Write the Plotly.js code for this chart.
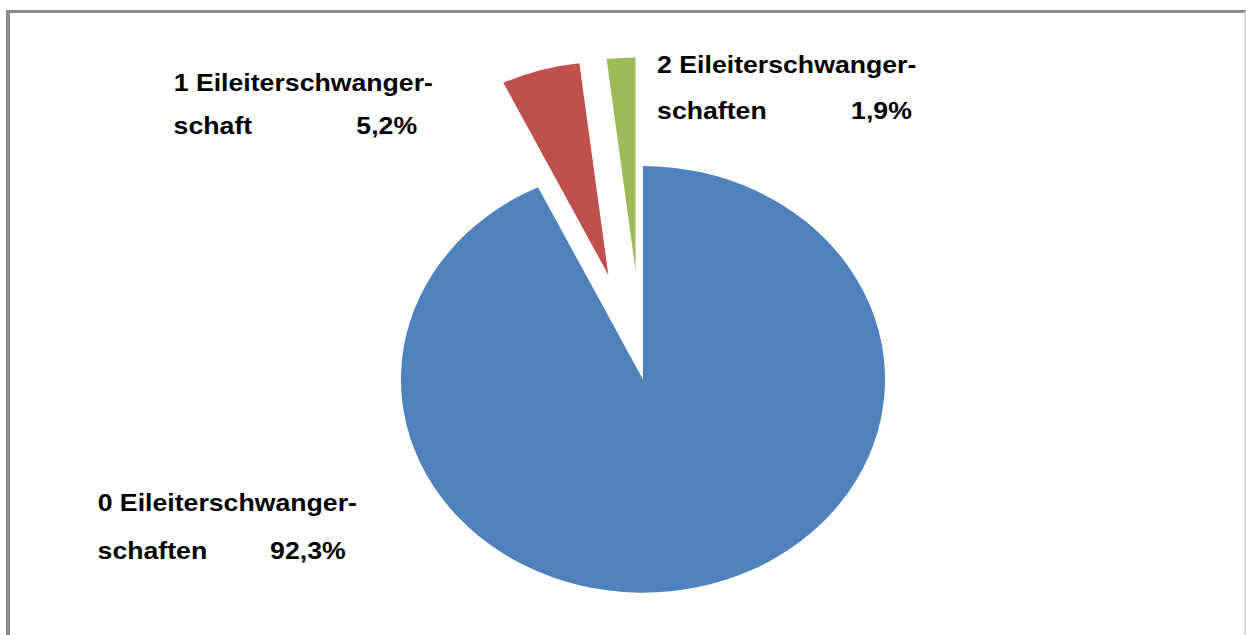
<!DOCTYPE html>
<html>
<head>
<meta charset="utf-8">
<script src="https://cdn.plot.ly/plotly-3.0.1.min.js"></script>
<style>
  html, body { margin: 0; padding: 0; width: 1246px; height: 635px; overflow: hidden; background: #ffffff; }
  #chart { position: absolute; left: 0; top: 0; transform-origin: 0 0; }
  #frame { position: absolute; left: 6px; top: 10px; width: 1240px; height: 700px; box-sizing: border-box;
           border-top: 3px solid #8a8a8a; border-left: 4px solid #8a8a8a; border-right: 2px solid #d8d8d8;
           pointer-events: none; }
</style>
</head>
<body>
<div id="chart"></div>
<div id="frame"></div>
<script>
// ---- data ----
const categories = ["0 Eileiterschwangerschaften", "1 Eileiterschwangerschaft", "2 Eileiterschwangerschaften"];
const values = [92.3, 5.2, 1.9];
const labelHead = ["0 Eileiterschwanger-", "1 Eileiterschwanger-", "2 Eileiterschwanger-"];
const labelTail = ["schaften", "schaft", "schaften"];
const colors = ["#4F81BD", "#C0504D", "#9BBB59"];
const pulls = [0, 0.51, 0.51];

// ---- layout constants (screen pixels of the target) ----
const SX = 1.13479;          // horizontal stretch of the whole picture
const W = 1098, H = 710;     // unscaled plot size
const pieCx = 643, pieCy = 379.4, pieR = 213.3;
const labelPos = [
  { x: 97,  xr: 347, y1: 502.8, y2: 550.8 },
  { x: 173, xr: 419, y1: 82.8,  y2: 125.8 },
  { x: 656, xr: 914, y1: 64.8,  y2: 110.8 }
];
const fontSize = 23.5;

const px = xs => xs / SX / W;
const py = ys => 1 - ys / H;

const maxPull = Math.max(...pulls);
const half = pieR * (1 + maxPull);
const domX = [px(pieCx) - half / W, px(pieCx) + half / W];
const domY = [py(pieCy) - half / H, py(pieCy) + half / H];

const fmt = v => v.toFixed(1).replace('.', ',') + '%';
const font = { family: '"Liberation Sans", Arial, sans-serif', size: fontSize, color: '#000000' };

const annotations = [];
labelPos.forEach((p, i) => {
  annotations.push({ xref: 'paper', yref: 'paper', x: px(p.x), y: py(p.y1), xanchor: 'left', yanchor: 'middle',
    text: '<b>' + labelHead[i] + '</b>', showarrow: false, font: font, borderpad: 0 });
  annotations.push({ xref: 'paper', yref: 'paper', x: px(p.x), y: py(p.y2), xanchor: 'left', yanchor: 'middle',
    text: '<b>' + labelTail[i] + '</b>', showarrow: false, font: font, borderpad: 0 });
  annotations.push({ xref: 'paper', yref: 'paper', x: px(p.xr), y: py(p.y2), xanchor: 'right', yanchor: 'middle',
    text: '<b>' + fmt(values[i]) + '</b>', showarrow: false, font: font, borderpad: 0 });
});

const trace = {
  type: 'pie',
  labels: categories,
  values: values,
  sort: false,
  direction: 'clockwise',
  rotation: 0,
  pull: pulls,
  textinfo: 'none',
  hoverinfo: 'none',
  marker: { colors: colors, line: { width: 0 } },
  domain: { x: domX, y: domY }
};

const layout = {
  width: W, height: H,
  margin: { l: 0, r: 0, t: 0, b: 0 },
  paper_bgcolor: '#ffffff',
  showlegend: false,
  annotations: annotations
};

document.getElementById('chart').style.transform = 'scaleX(' + SX + ')';
Plotly.newPlot('chart', [trace], layout, { staticPlot: true });
</script>
</body>
</html>
